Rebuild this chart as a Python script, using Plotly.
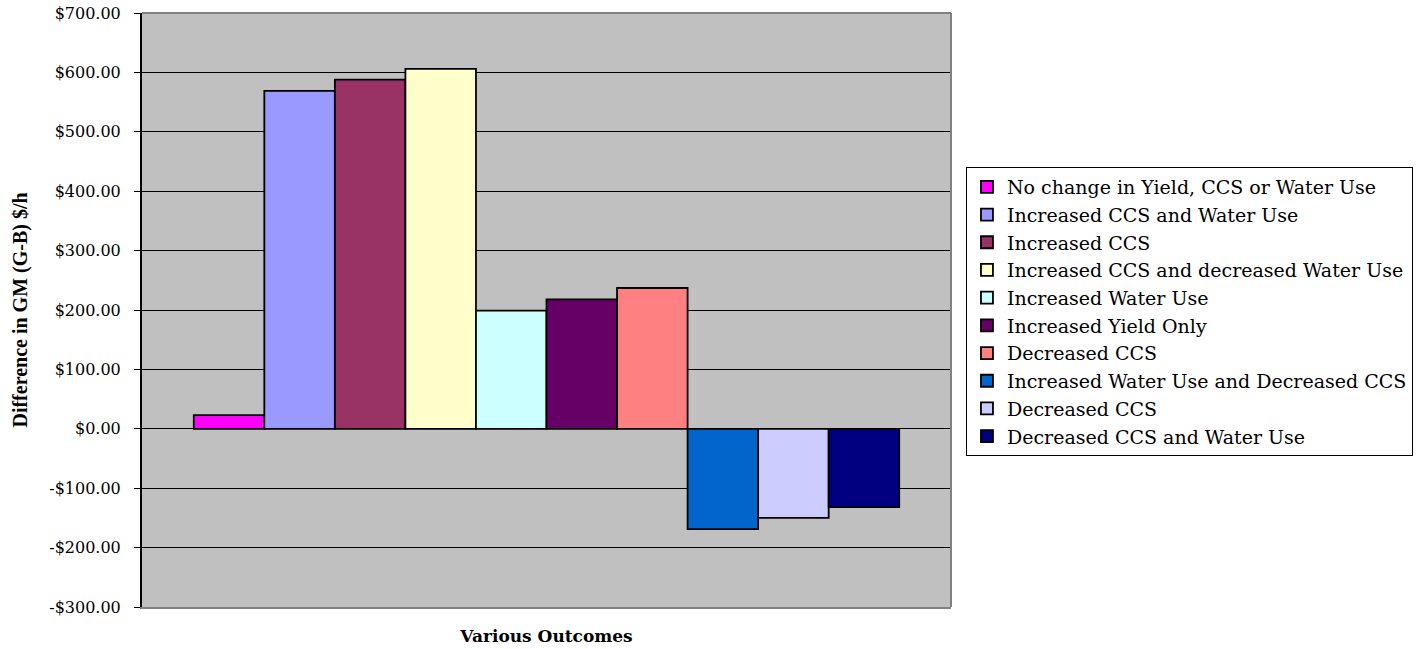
import plotly.graph_objects as go

# Outcome scenarios and their gross-margin difference (G-B), $/h
outcomes = [
    "No change in Yield, CCS or Water Use",
    "Increased CCS and Water Use",
    "Increased CCS",
    "Increased CCS and decreased Water Use",
    "Increased Water Use",
    "Increased Yield Only",
    "Decreased CCS",
    "Increased Water Use and Decreased CCS",
    "Decreased CCS",
    "Decreased CCS and Water Use",
]
differences = [23, 569, 588, 606, 199, 218, 237, -169, -150, -132]
bar_colors = [
    "#FF00FF", "#9999FF", "#993366", "#FFFFCC", "#CCFFFF",
    "#660066", "#FF8080", "#0066CC", "#CCCCFF", "#000080",
]

tick_values = [700, 600, 500, 400, 300, 200, 100, 0, -100, -200, -300]
tick_labels = ["$700.00", "$600.00", "$500.00", "$400.00", "$300.00", "$200.00",
               "$100.00", "$0.00", "-$100.00", "-$200.00", "-$300.00"]

wide_serif = "DejaVu Serif, serif"
times = "Liberation Serif, Times New Roman, serif"

fig = go.Figure()
for name, val, col in zip(outcomes, differences, bar_colors):
    fig.add_trace(go.Bar(
        x=["Outcomes"], y=[val], name=name,
        marker=dict(color=col, line=dict(color="black", width=1.8)),
    ))

# grey frame on the top and right edges of the plotting area
fig.add_shape(type="line", xref="paper", yref="paper", x0=0, x1=1, y0=1, y1=1,
              line=dict(color="#808080", width=2), layer="above")
fig.add_shape(type="line", xref="paper", yref="paper", x0=1, x1=1, y0=0, y1=1,
              line=dict(color="#808080", width=2), layer="above")

fig.update_layout(
    width=1424, height=649,
    margin=dict(l=142, r=473, t=13, b=42, autoexpand=False),
    paper_bgcolor="white",
    plot_bgcolor="#C0C0C0",
    barmode="group",
    bargap=0.128,
    bargroupgap=0,
    font=dict(family=wide_serif, color="black"),
    showlegend=True,
    legend=dict(
        x=1.0185, y=0.7407, xanchor="left", yanchor="top",
        bordercolor="black", borderwidth=1,
        font=dict(family=wide_serif, size=19, color="black"),
        itemwidth=30,
        tracegroupgap=0,
        bgcolor="white",
    ),
    xaxis=dict(
        showticklabels=False, ticks="", showgrid=False, automargin=False,
        title=dict(text="<b>Various Outcomes</b>", font=dict(family=wide_serif, size=17), standoff=22),
        showline=True, linecolor="#808080", linewidth=2,
    ),
    yaxis=dict(
        range=[-300, 700], tickvals=tick_values, ticktext=tick_labels,
        automargin=False,
        ticks="outside", ticklen=6, tickcolor="black", tickwidth=1,
        ticklabelstandoff=10,
        tickfont=dict(family=wide_serif, size=16, color="black"),
        showgrid=True, gridcolor="#000000", gridwidth=1,
        zeroline=True, zerolinecolor="black", zerolinewidth=1,
        showline=True, linecolor="black", linewidth=2,
        title=dict(text="<b>Difference in GM (G-B) $/h</b>",
                   font=dict(family=times, size=20),
                   standoff=16),
    ),
)

fig.write_html("out.html")
